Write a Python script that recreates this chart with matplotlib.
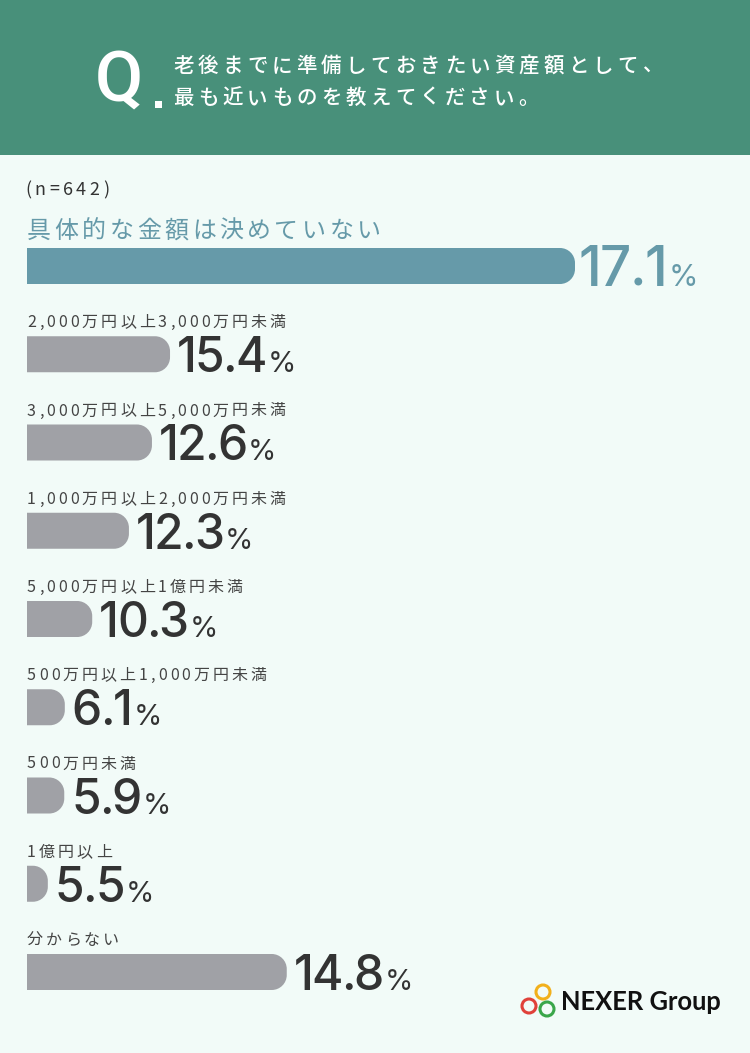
import matplotlib
matplotlib.use("Agg")
import matplotlib.pyplot as plt
from matplotlib import font_manager as fm
from matplotlib.ft2font import FT2Font
from matplotlib.path import Path
from matplotlib.patches import PathPatch, Rectangle, Circle

question = ["老後までに準備しておきたい資産額として、", "最も近いものを教えてください。"]
sample = "(n=642)"
categories = ["具体的な金額は決めていない",
              "2,000万円以上3,000万円未満",
              "3,000万円以上5,000万円未満",
              "1,000万円以上2,000万円未満",
              "5,000万円以上1億円未満",
              "500万円以上1,000万円未満",
              "500万円未満",
              "1億円以上",
              "分からない"]
percents = [17.1, 15.4, 12.6, 12.3, 10.3, 6.1, 5.9, 5.5, 14.8]
# the bars of the original graphic are not drawn to scale:
# lengths as they appear there, longest bar = 100
bar_lengths = [100, 26.1, 22.8, 18.6, 11.9, 6.9, 6.8, 3.8, 47.4]

W, H = 750, 1053
PT = 0.72  # points per pixel at dpi 100
HEAD = "#48907a"
BG = "#f2fbf8"
TEAL = "#669aa9"
GRAY = "#a0a1a6"
DARK = "#333333"
JP = ["Noto Sans CJK JP", "DejaVu Sans"]
NUM = ["Inter", "Lato", "DejaVu Sans"]


def advances(text, family, size, weight="normal"):
    path = fm.findfont(fm.FontProperties(family=family, weight=weight))
    font = FT2Font(path)
    font.set_size(size, 72)
    out = []
    for ch in text:
        g = font.load_char(ord(ch))
        out.append(g.linearHoriAdvance / 65536)
    return out


def spaced(ax, xy, text, dx, dy, track, size, family, xycoords="data", **kw):
    # draw text char by char with extra letter spacing (all in points)
    x = dx
    for ch, adv in zip(text, advances(text, family[0], size, kw.get("fontweight", "normal"))):
        ax.annotate(ch, xy, xycoords=xycoords, xytext=(x, dy), textcoords="offset points",
                    ha="left", va="baseline", fontsize=size, family=family, **kw)
        x += adv + track
    return x - track


fig = plt.figure(figsize=(W / 100, H / 100), dpi=100)
fig.patch.set_facecolor(BG)

# decoration layer in pixel units
bg = fig.add_axes([0, 0, 1, 1])
bg.set_xlim(0, W)
bg.set_ylim(H, 0)
bg.axis("off")
bg.add_patch(Rectangle((0, 0), W, 155, color=HEAD, lw=0))
bg.text(95, 102, "Q", fontsize=70 * PT, color="white", family=["Roboto", "DejaVu Sans"],
        fontweight="medium", ha="left", va="baseline")
bg.add_patch(Rectangle((155, 101), 6.5, 6.5, color="white", lw=0))
for k, line in enumerate(question):
    spaced(bg, (173, 72 + 32 * k), line, 0, 0, 4.2 * PT, 20.5 * PT, JP, color="white",
           fontweight="medium")
spaced(bg, (25, 195), sample, 0, 0, 3.5 * PT, 18 * PT, JP, color=DARK)

# logo
for (cx, cy), c in zip([(529, 1006), (543, 992), (547, 1009)], ["#e0413a", "#f2b01c", "#3aa64a"]):
    bg.add_patch(Circle((cx, cy), 7, fill=False, ec=c, lw=2.2))
bg.text(561, 1010, "NEXER Group", fontsize=25.5 * PT, fontweight="bold", family=["Lato", "DejaVu Sans"],
        color="#111111", ha="left", va="baseline")

# bars
step = 88.25
bar_h = 36
top = 266 - step / 2
n = len(categories)
ax = fig.add_axes([27 / W, 1 - (top + step * n) / H, 696 / W, step * n / H])
ax.set_xlim(0, 696 / 5.48)
ax.set_ylim(n - 0.5, -0.5)
ax.axis("off")
ax.patch.set_alpha(0)

colors = [TEAL] + [GRAY] * (n - 1)
bars = ax.barh(range(n), bar_lengths, height=bar_h / step, color=colors)

rx, ry = 15 / 5.48, 15 / step
kap = 0.5523
for rect in bars:
    x0, y0 = rect.get_x(), rect.get_y()
    w, h = rect.get_width(), rect.get_height()
    x1, y1 = x0 + w, y0 + h
    r = min(rx, w)
    verts = [(x0, y0), (x1 - r, y0),
             (x1 - r + kap * r, y0), (x1, y0 + ry - kap * ry), (x1, y0 + ry),
             (x1, y1 - ry),
             (x1, y1 - ry + kap * ry), (x1 - r + kap * r, y1), (x1 - r, y1),
             (x0, y1), (x0, y0)]
    codes = [Path.MOVETO, Path.LINETO,
             Path.CURVE4, Path.CURVE4, Path.CURVE4,
             Path.LINETO,
             Path.CURVE4, Path.CURVE4, Path.CURVE4,
             Path.LINETO, Path.CLOSEPOLY]
    ax.add_patch(PathPatch(Path(verts, codes), fc=rect.get_facecolor(), lw=0))
    rect.remove()

for i, (cat, pct, length) in enumerate(zip(categories, percents, bar_lengths)):
    num = f"{pct:.1f}"
    if i == 0:
        spaced(ax, (0, i), cat, 0, 28 * PT, 3.5 * PT, 24 * PT, JP, color=TEAL)
        end = spaced(ax, (length, i), num, 3 * PT, -20 * PT, -1.5 * PT, 55 * PT, NUM, color=TEAL,
                     fontweight="medium")
        spaced(ax, (length, i), "%", end + 1 * PT, -20 * PT, 0, 30 * PT, NUM, color=TEAL)
    else:
        spaced(ax, (0, i), cat, 0, 27 * PT, 3 * PT, 16 * PT, JP, color="#444444")
        end = spaced(ax, (length, i), num, 7 * PT, -18 * PT, -2 * PT, 48 * PT, NUM, color=DARK,
                     fontweight="medium")
        spaced(ax, (length, i), "%", end + 1 * PT, -18 * PT, 0, 29 * PT, NUM, color=DARK)

fig.savefig("out.png", dpi=100, facecolor=BG)
